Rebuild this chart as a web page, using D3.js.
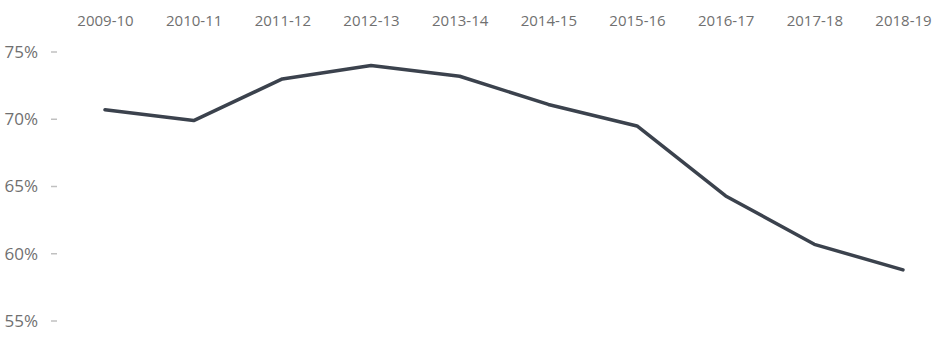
<!DOCTYPE html>
<html>
<head>
<meta charset="utf-8">
<script src="https://cdn.jsdelivr.net/npm/d3@7"></script>
<style>
  body { margin: 0; background: #fff; }
  text { font-family: "Open Sans", sans-serif; fill: #707070; }
</style>
</head>
<body>
<div id="chart"></div>
<script>
// Data
var years = ["2009-10", "2010-11", "2011-12", "2012-13", "2013-14",
             "2014-15", "2015-16", "2016-17", "2017-18", "2018-19"];
var rates = [70.7, 69.9, 73.0, 74.0, 73.2, 71.1, 69.5, 64.3, 60.7, 58.8];
var yTicks = [55, 60, 65, 70, 75];

var svgWidth = 943;
var svgHeight = 338;

var svg = d3.select("#chart")
    .append("svg")
    .attr("width", svgWidth)
    .attr("height", svgHeight);

// Scales
var xScale = d3.scalePoint()
    .domain(years)
    .range([105, 903]);

var yScale = d3.scaleLinear()
    .domain([55, 75])
    .range([321, 52]);

// Top category labels
var xAxis = d3.axisTop(xScale).tickSize(0).tickPadding(0);
var xg = svg.append("g")
    .attr("transform", "translate(0, 26)")
    .call(xAxis);
xg.select(".domain").remove();
xg.selectAll("text")
    .attr("font-size", "15px")
    .attr("fill", "#707070")
    .attr("font-family", "Open Sans, sans-serif");

// Left percent axis with short dash ticks
var yAxis = d3.axisLeft(yScale)
    .tickValues(yTicks)
    .tickFormat(d => d + "%")
    .tickSize(0)
    .tickPadding(0);
var yg = svg.append("g")
    .attr("transform", "translate(38, 0)")
    .call(yAxis);
yg.select(".domain").remove();
yg.selectAll("text")
    .attr("font-size", "17px")
    .attr("fill", "#707070")
    .attr("font-family", "Open Sans, sans-serif");

svg.append("g").selectAll("line")
    .data(yTicks)
    .enter()
    .append("line")
    .attr("x1", 51)
    .attr("x2", 57)
    .attr("y1", d => yScale(d))
    .attr("y2", d => yScale(d))
    .attr("stroke", "#c0c0c0")
    .attr("stroke-width", 1.5);

// The line
var line = d3.line()
    .x((d, i) => xScale(years[i]))
    .y(d => yScale(d));

svg.append("path")
    .datum(rates)
    .attr("d", line)
    .attr("fill", "none")
    .attr("stroke", "#3b424d")
    .attr("stroke-width", 3.5)
    .attr("stroke-linejoin", "round")
    .attr("stroke-linecap", "round");
</script>
</body>
</html>
